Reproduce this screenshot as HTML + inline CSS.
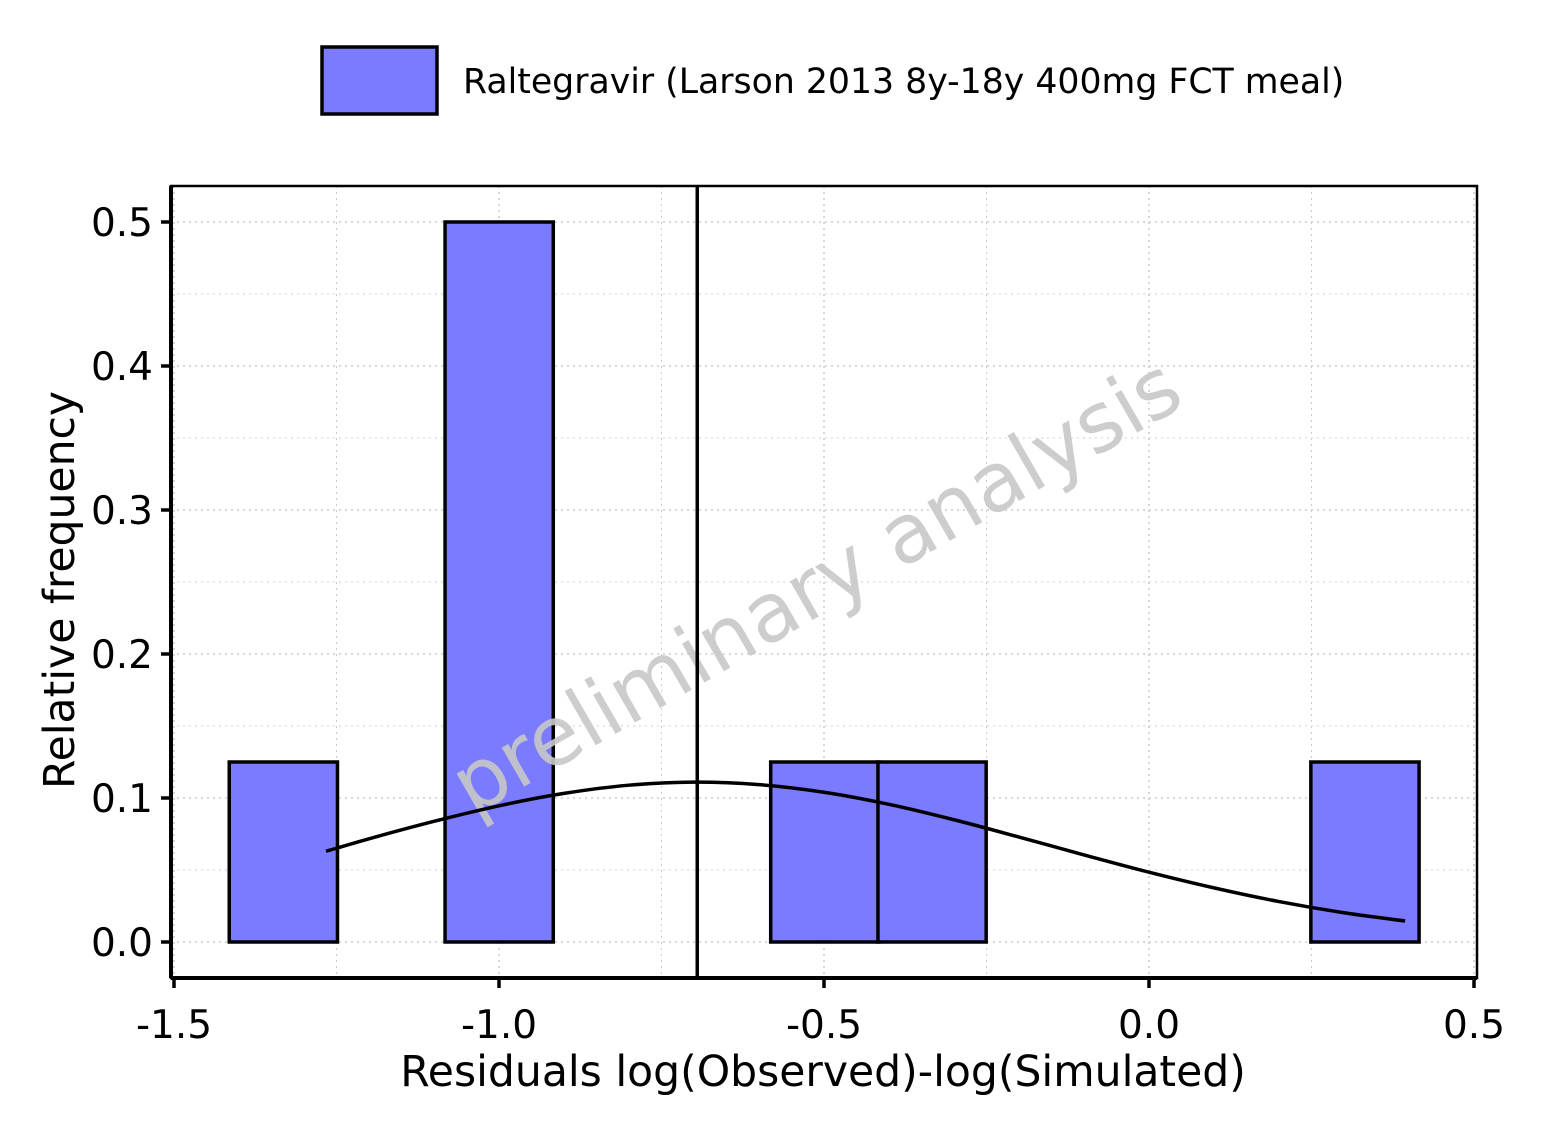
<!DOCTYPE html>
<html><head><meta charset="utf-8"><style>
body{margin:0;background:#fff;}
svg text{font-family:"DejaVu Sans","Liberation Sans",sans-serif;}
</style></head><body>
<svg id="chart" width="1562" height="1140" viewBox="0 0 1562 1140" xmlns="http://www.w3.org/2000/svg">
<rect width="1562" height="1140" fill="#fff"/>
<g id="legend">
<rect x="322" y="47" width="115" height="67" fill="#7b7bff" stroke="#000" stroke-width="3.5"/>
<text x="463" y="93" font-size="34.7">Raltegravir (Larson 2013 8y-18y 400mg FCT meal)</text>
</g>
<g id="grid"></g>
<g id="bars"></g>
<text x="830" y="610" font-size="82" fill="#c8c8c8" fill-opacity="0.9" text-anchor="middle" transform="rotate(-30 830 610)">preliminary analysis</text>
<g id="overlay"></g>
<g id="axes"></g>
<text x="823" y="1086" font-size="42.5" text-anchor="middle">Residuals log(Observed)-log(Simulated)</text>
<text x="0" y="0" font-size="42.5" text-anchor="middle" transform="translate(74 590) rotate(-90)">Relative frequency</text>
</svg>
<script>
const binStarts=[-1.415,-1.083,-0.582,-0.417,0.249];
const binWidth=0.1665;
const freqs=[0.125,0.5,0.125,0.125,0.125];
const meanValue=-0.695;
const curveX=[-1.266,-1.2,-1.1,-1.0,-0.9,-0.8,-0.7,-0.6,-0.5,-0.4,-0.3,-0.2,-0.1,0.0,0.1,0.2,0.3,0.394];
const curveY=[0.063,0.0717,0.0838,0.0946,0.1032,0.1089,0.111,0.1093,0.104,0.0956,0.0849,0.0729,0.0605,0.0485,0.0376,0.0281,0.0203,0.0146];
const xTicks=[-1.5,-1.0,-0.5,0.0,0.5];
const xTickLabels=["-1.5","-1.0","-0.5","0.0","0.5"];
const yTicks=[0,0.1,0.2,0.3,0.4,0.5];
const yTickLabels=["0.0","0.1","0.2","0.3","0.4","0.5"];
const NS="http://www.w3.org/2000/svg";
const X=v=>1149+650*v, Y=v=>942-1440*v;
const L=171,R=1477,T=186,B=978;
function mk(tag,attrs,parent){const e=document.createElementNS(NS,tag);for(const k in attrs)e.setAttribute(k,attrs[k]);parent.appendChild(e);return e;}
const grid=document.getElementById('grid');
for(let v=-1.5;v<=0.501;v+=0.25){const l=mk('line',{x1:X(v),x2:X(v),y1:T,y2:B,stroke:'#ccc','stroke-width':Math.abs(v*2-Math.round(v*2))<0.01?1.6:1,'stroke-dasharray':'2,4'},grid);

}
for(let v=0;v<=0.501;v+=0.05){const l=mk('line',{x1:L,x2:R,y1:Y(v),y2:Y(v),stroke:'#ccc','stroke-width':Math.round(v*20)%2==0?1.6:1,'stroke-dasharray':'2,4'},grid);

}
const bars=document.getElementById('bars');
binStarts.forEach((s,i)=>{const r=mk('rect',{x:X(s),y:Y(freqs[i]),width:X(s+binWidth)-X(s),height:Y(0)-Y(freqs[i]),fill:'#7b7bff',stroke:'#000','stroke-width':3.5},bars);

});
const ov=document.getElementById('overlay');
const ml=mk('line',{x1:X(meanValue),x2:X(meanValue),y1:T,y2:B,stroke:'#000','stroke-width':3.5},ov);


const P=curveX.map((x,i)=>[X(x),Y(curveY[i])]);
let d='M'+P[0][0]+','+P[0][1];
for(let i=0;i<P.length-1;i++){const p0=P[Math.max(0,i-1)],p1=P[i],p2=P[i+1],p3=P[Math.min(P.length-1,i+2)];
d+=' C'+(p1[0]+(p2[0]-p0[0])/6)+','+(p1[1]+(p2[1]-p0[1])/6)+' '+(p2[0]-(p3[0]-p1[0])/6)+','+(p2[1]-(p3[1]-p1[1])/6)+' '+p2[0]+','+p2[1];}
const cp=mk('path',{d:d,fill:'none',stroke:'#000','stroke-width':3.5},ov);


const ax=document.getElementById('axes');
mk('rect',{x:L,y:T,width:R-L,height:B-T,fill:'none',stroke:'#000','stroke-width':2.5},ax);
mk('line',{x1:L,x2:L,y1:T,y2:B,stroke:'#000','stroke-width':4},ax);
mk('line',{x1:L,x2:R,y1:B,y2:B,stroke:'#000','stroke-width':4},ax);
xTicks.forEach((v,i)=>{mk('line',{x1:X(v),x2:X(v),y1:B,y2:B+10,stroke:'#000','stroke-width':3.5},ax);
const t=mk('text',{x:X(v),y:B+60,'font-size':39,'text-anchor':'middle'},ax);t.textContent=xTickLabels[i];

});
yTicks.forEach((v,i)=>{mk('line',{x1:L-10,x2:L,y1:Y(v),y2:Y(v),stroke:'#000','stroke-width':3.5},ax);
const t=mk('text',{x:L-18,y:Y(v)+14,'font-size':39,'text-anchor':'end'},ax);t.textContent=yTickLabels[i];

});
</script>
</body></html>
